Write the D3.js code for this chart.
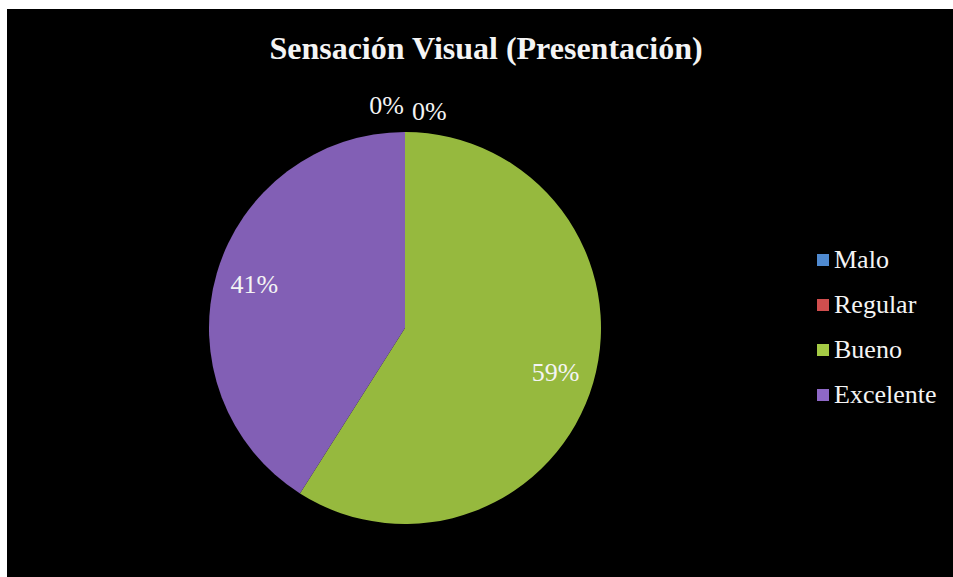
<!DOCTYPE html>
<html>
<head>
<meta charset="utf-8">
<script src="https://cdn.jsdelivr.net/npm/d3@7"></script>
<style>
  html, body { margin: 0; padding: 0; background: #ffffff; }
  svg { display: block; }
</style>
</head>
<body>
<svg id="chart" width="953" height="577"></svg>
<script>
// Survey results: visual impression of the presentation
const categories = ["Malo", "Regular", "Bueno", "Excelente"];
const values = [0, 0, 59, 41];
const colors = ["#4f8ad0", "#d04e4e", "#a4ca44", "#8e68c6"];
const title = "Sensación Visual (Presentación)";

const FONT = '"Liberation Serif"';
const W = 953, H = 577;
const svg = d3.select("#chart");

// black plot card with a thin white margin on top and left
svg.append("rect").attr("x", 7).attr("y", 9).attr("width", W - 7).attr("height", H - 9).attr("fill", "#000");

const cx = 405, cy = 328, r = 196;
const total = d3.sum(values);

// soft bevel towards the rim of each slice
const defs = svg.append("defs");
colors.forEach((c, i) => {
  const grad = defs.append("radialGradient").attr("id", "grad" + i)
    .attr("gradientUnits", "userSpaceOnUse")
    .attr("cx", cx).attr("cy", cy).attr("r", r);
  grad.append("stop").attr("offset", "0%").attr("stop-color", c);
  grad.append("stop").attr("offset", "93%").attr("stop-color", c);
  grad.append("stop").attr("offset", "100%").attr("stop-color", d3.color(c).darker(0.25).formatHex());
});

const pie = d3.pie().value(d => d).sort(null);
const arcs = pie(values);
const arc = d3.arc().innerRadius(0).outerRadius(r);
const labelArc = d3.arc().innerRadius(r * 0.8).outerRadius(r * 0.8);
const outerArc = d3.arc().innerRadius(r * 1.1).outerRadius(r * 1.1);

const g = svg.append("g").attr("transform", `translate(${cx},${cy})`);
g.selectAll("path.slice").data(arcs).enter().append("path")
  .attr("class", "slice")
  .attr("d", arc)
  .attr("fill", (d, i) => `url(#grad${i})`);

// percentage labels
const fmt = v => Math.round(v / total * 100) + "%";
const zeroShift = [[-1, -8, "end"], [7, -2, "start"]];
let zi = 0;
arcs.forEach((d, i) => {
  let x, y, anchor = "middle";
  if (d.value === 0) {
    const p = outerArc.centroid(d);
    const s = zeroShift[zi++ % 2];
    x = p[0] + s[0]; y = p[1] + s[1]; anchor = s[2];
  } else {
    const p = labelArc.centroid(d);
    x = p[0]; y = p[1];
  }
  g.append("text")
    .attr("x", x).attr("y", y)
    .attr("dy", "0.35em")
    .attr("text-anchor", anchor)
    .style("font-family", FONT)
    .style("font-size", "26px")
    .attr("fill", "#f4f4f4")
    .text(fmt(d.value));
});

// title
svg.append("text")
  .attr("x", 486).attr("y", 59)
  .attr("text-anchor", "middle")
  .style("font-family", FONT)
  .style("font-weight", "bold")
  .style("font-size", "32px")
  .attr("fill", "#f4f4f4")
  .text(title);

// legend
const legend = svg.append("g").attr("transform", "translate(817,268)");
const row = legend.selectAll("g").data(categories).enter().append("g")
  .attr("transform", (d, i) => `translate(0,${i * 45})`);
row.append("rect")
  .attr("x", 0).attr("y", -14).attr("width", 12).attr("height", 12)
  .attr("fill", (d, i) => colors[i]);
row.append("text")
  .attr("x", 17).attr("y", 0)
  .style("font-family", FONT)
  .style("font-size", "26px")
  .attr("fill", "#f4f4f4")
  .text(d => d);
</script>
</body>
</html>
